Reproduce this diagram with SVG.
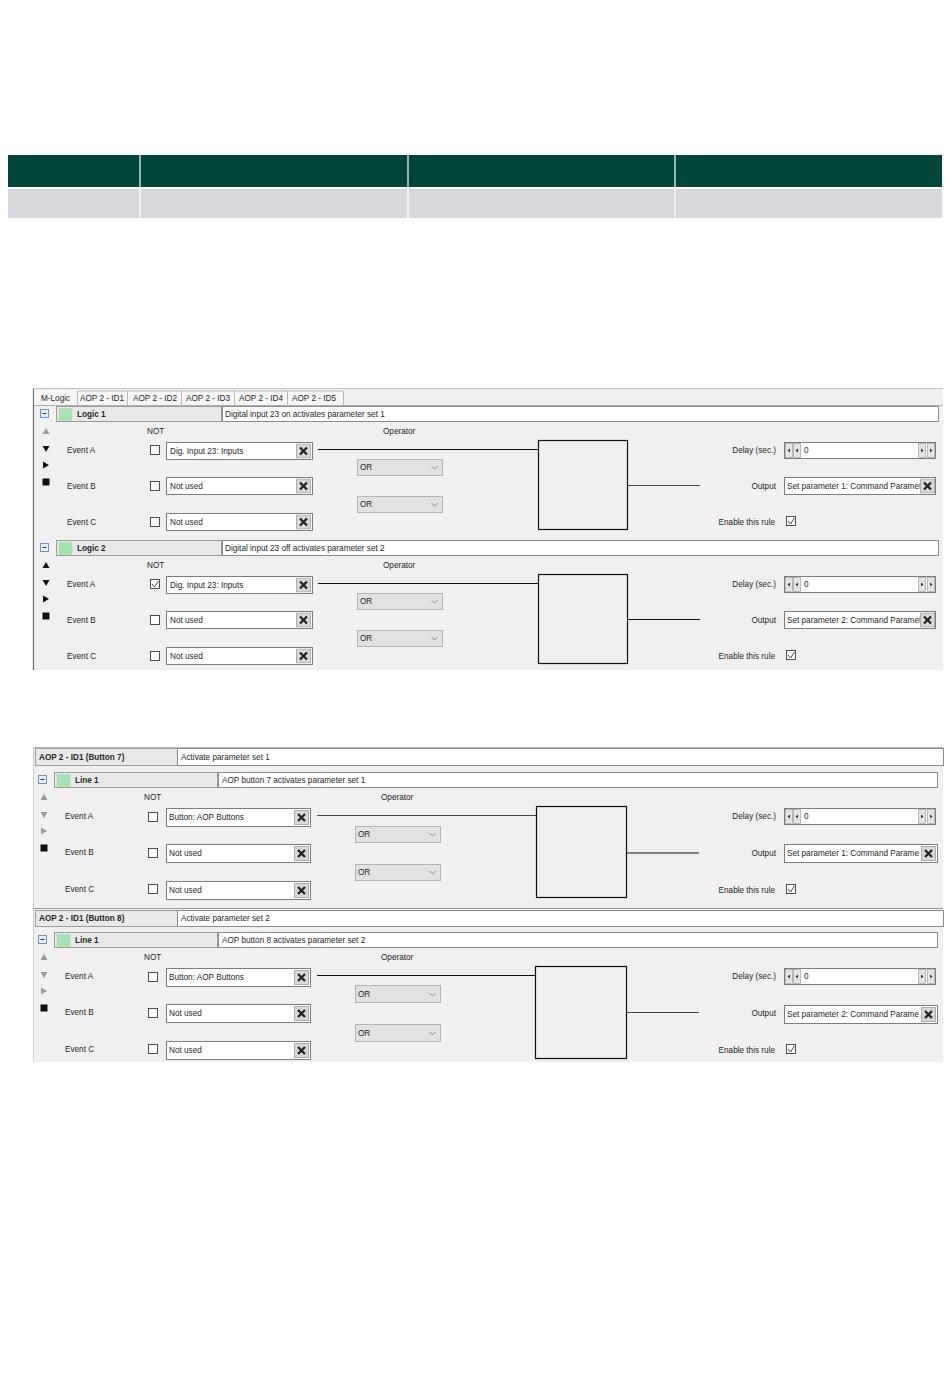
<svg xmlns="http://www.w3.org/2000/svg" width="950" height="1387" viewBox="0 0 950 1387">
<style>
.t{font-family:"Liberation Sans",Arial,sans-serif;font-size:8.2px;fill:#262626}
.b{font-weight:bold}
.e{text-anchor:end}
.hdr{fill:#e9e9e9;stroke:#9c9c9c;stroke-width:1}
.desc{fill:#fff;stroke:#8a8a8a;stroke-width:1}
.inp{fill:#fff;stroke:#7c7c7c;stroke-width:1}
.cb{fill:#fff;stroke:#3a3a3a;stroke-width:0.9}
.dd{fill:#e2e2e2;stroke:#b4b4b4;stroke-width:1}
.chev{fill:none;stroke:#777;stroke-width:0.8}
.chk{fill:none;stroke:#333;stroke-width:0.9}
.gate{fill:#f0f0f0;stroke:#111;stroke-width:1.2}
.grn{fill:#a6e3b0;stroke:#c8c8c8;stroke-width:0.5}
.mi{fill:#e6ecf4;stroke:#6f86a8;stroke-width:0.9}
.mil{stroke:#2a3a55;stroke-width:1}
.ag{fill:#9a9a9a}
.ak{fill:#111}
.sp{fill:#e4e4e4;stroke:#a8a8a8;stroke-width:0.8}
.spt{fill:#333}
.conn{stroke:#111;stroke-width:1.2;fill:none}
.conn2{stroke:#333;stroke-width:0.9;fill:none}
</style>
<defs>
<symbol id="xbtn" viewBox="0 0 15 15" width="15" height="15">
<rect x="0.5" y="0.5" width="14" height="14" fill="#d8d8d8" stroke="#ababab"/>
<path d="M4 4 L11 11 M11 4 L4 11" stroke="#222" stroke-width="2.3" fill="none"/>
</symbol>
<symbol id="delay" viewBox="0 0 153 18" width="153" height="18">
<rect x="0.5" y="0.5" width="151" height="16" fill="#fff" stroke="#7c7c7c"/>
<rect class="sp" x="1.5" y="1.5" width="7" height="14"/>
<rect class="sp" x="9.5" y="1.5" width="7" height="14"/>
<polygon class="spt" points="6,6.5 6,10.5 3.5,8.5"/>
<polygon class="spt" points="14,6.5 14,10.5 11.5,8.5"/>
<rect class="sp" x="134.5" y="1.5" width="7" height="14"/>
<rect class="sp" x="143.5" y="1.5" width="7" height="14"/>
<polygon class="spt" points="137,6.5 137,10.5 139.5,8.5"/>
<polygon class="spt" points="146,6.5 146,10.5 148.5,8.5"/>
</symbol>
<clipPath id="clipA" clipPathUnits="userSpaceOnUse"><rect x="785" y="470" width="135" height="30"/></clipPath>
<clipPath id="clipB" clipPathUnits="userSpaceOnUse"><rect x="787" y="470" width="136" height="30"/></clipPath>
</defs>
<rect width="950" height="1387" fill="#fff"/>

<g id="table">
<rect x="8" y="155" width="934" height="32" fill="#02463a"/>
<rect x="8" y="189" width="934" height="29" fill="#d7d9df"/>
<g stroke="#fff" stroke-width="1.2">
<line x1="140" y1="155" x2="140" y2="218"/>
<line x1="408" y1="155" x2="408" y2="218"/>
<line x1="675" y1="155" x2="675" y2="218"/>
</g>
</g>

<g id="mlogic-panel">
<rect x="33" y="388" width="910" height="282" fill="#f0f0f0"/>
<line x1="33.5" y1="388" x2="33.5" y2="670" stroke="#6a6a6a" stroke-width="1.2"/>
<line x1="33" y1="388.5" x2="943" y2="388.5" stroke="#c4c4c4" stroke-width="1"/>
<rect x="34" y="390" width="309" height="15" fill="#f6f6f6"/>
<line x1="34" y1="405.5" x2="943" y2="405.5" stroke="#b0b0b0"/>
<g stroke="#a9a9a9" stroke-width="0.8">
<line x1="77.5" y1="391" x2="77.5" y2="405"/>
<line x1="127.5" y1="391" x2="127.5" y2="405"/>
<line x1="181.5" y1="391" x2="181.5" y2="405"/>
<line x1="234.5" y1="391" x2="234.5" y2="405"/>
<line x1="287.5" y1="391" x2="287.5" y2="405"/>
<line x1="343.5" y1="391" x2="343.5" y2="405"/>
<line x1="77.5" y1="391" x2="343.5" y2="391"/>
</g>
<text class="t" x="41" y="401">M-Logic</text>
<text class="t" x="80" y="401">AOP 2 - ID1</text>
<text class="t" x="133" y="401">AOP 2 - ID2</text>
<text class="t" x="186" y="401">AOP 2 - ID3</text>
<text class="t" x="239" y="401">AOP 2 - ID4</text>
<text class="t" x="292" y="401">AOP 2 - ID5</text>
</g>

<g id="logic1">
<rect class="hdr" x="56.5" y="406.5" width="165" height="15"/>
<rect class="mi" x="40.5" y="409.5" width="8" height="8"/>
<line class="mil" x1="42.5" y1="413.5" x2="46.5" y2="413.5"/>
<rect class="grn" x="59" y="408.5" width="13" height="12"/>
<text class="t b" x="77" y="417">Logic 1</text>
<rect class="desc" x="222.5" y="406.5" width="716" height="15"/>
<text class="t" x="225" y="417">Digital input 23 on activates parameter set 1</text>
<polygon class="ag" points="42.5,434 49.5,434 46,428"/>
<polygon class="ak" points="42.5,446 49.5,446 46,452"/>
<polygon class="ak" points="43,461.5 43,468.5 49,465"/>
<rect class="ak" x="42.5" y="478.5" width="7" height="7"/>
<text class="t" x="147" y="434">NOT</text>
<text class="t" x="383" y="434">Operator</text>
<text class="t" x="67" y="453">Event A</text>
<rect class="cb" x="150.5" y="445.5" width="9" height="9"/>
<rect class="inp" x="166.5" y="442.5" width="146" height="17"/>
<text class="t" x="170" y="453.5">Dig. Input 23: Inputs</text>
<use href="#xbtn" x="296" y="443.5"/>
<text class="t" x="67" y="489">Event B</text>
<rect class="cb" x="150.5" y="481.5" width="9" height="9"/>
<rect class="inp" x="166.5" y="477.5" width="146" height="17"/>
<text class="t" x="170" y="489">Not used</text>
<use href="#xbtn" x="296" y="478.5"/>
<text class="t" x="67" y="525">Event C</text>
<rect class="cb" x="150.5" y="517.5" width="9" height="9"/>
<rect class="inp" x="166.5" y="513.5" width="146" height="17"/>
<text class="t" x="170" y="525">Not used</text>
<use href="#xbtn" x="296" y="514.5"/>
<rect class="dd" x="357.5" y="459.5" width="85" height="16"/>
<text class="t" x="360" y="470">OR</text>
<polyline class="chev" points="431.5,466 434.5,469 437.5,466"/>
<rect class="dd" x="357.5" y="496.5" width="85" height="16"/>
<text class="t" x="360" y="507">OR</text>
<polyline class="chev" points="431.5,503 434.5,506 437.5,503"/>
<rect class="gate" x="538.5" y="440.5" width="89" height="89"/>
<text class="t e" x="776" y="453">Delay (sec.)</text>
<use href="#delay" x="784" y="442"/>
<text class="t" x="804" y="453">0</text>
<text class="t e" x="776" y="489">Output</text>
<rect class="inp" x="784.5" y="477.5" width="151" height="17"/>
<text class="t" x="787" y="489" clip-path="url(#clipA)">Set parameter 1: Command Paramete</text>
<use href="#xbtn" x="920" y="478.5"/>
<text class="t e" x="775" y="525">Enable this rule</text>
<rect class="cb" x="786.5" y="516.5" width="9" height="9"/>
<polyline class="chk" points="788,521 790.5,524 794.5,518"/>
</g>

<g id="logic2" transform="translate(0,134)">
<rect class="hdr" x="56.5" y="406.5" width="165" height="15"/>
<rect class="mi" x="40.5" y="409.5" width="8" height="8"/>
<line class="mil" x1="42.5" y1="413.5" x2="46.5" y2="413.5"/>
<rect class="grn" x="59" y="408.5" width="13" height="12"/>
<text class="t b" x="77" y="417">Logic 2</text>
<rect class="desc" x="222.5" y="406.5" width="716" height="15"/>
<text class="t" x="225" y="417">Digital input 23 off activates parameter set 2</text>
<polygon class="ak" points="42.5,434 49.5,434 46,428"/>
<polygon class="ak" points="42.5,446 49.5,446 46,452"/>
<polygon class="ak" points="43,461.5 43,468.5 49,465"/>
<rect class="ak" x="42.5" y="478.5" width="7" height="7"/>
<text class="t" x="147" y="434">NOT</text>
<text class="t" x="383" y="434">Operator</text>
<text class="t" x="67" y="453">Event A</text>
<rect class="cb" x="150.5" y="445.5" width="9" height="9"/>
<polyline class="chk" points="152,450 154.5,453 158.5,447"/>
<rect class="inp" x="166.5" y="442.5" width="146" height="17"/>
<text class="t" x="170" y="453.5">Dig. Input 23: Inputs</text>
<use href="#xbtn" x="296" y="443.5"/>
<text class="t" x="67" y="489">Event B</text>
<rect class="cb" x="150.5" y="481.5" width="9" height="9"/>
<rect class="inp" x="166.5" y="477.5" width="146" height="17"/>
<text class="t" x="170" y="489">Not used</text>
<use href="#xbtn" x="296" y="478.5"/>
<text class="t" x="67" y="525">Event C</text>
<rect class="cb" x="150.5" y="517.5" width="9" height="9"/>
<rect class="inp" x="166.5" y="513.5" width="146" height="17"/>
<text class="t" x="170" y="525">Not used</text>
<use href="#xbtn" x="296" y="514.5"/>
<rect class="dd" x="357.5" y="459.5" width="85" height="16"/>
<text class="t" x="360" y="470">OR</text>
<polyline class="chev" points="431.5,466 434.5,469 437.5,466"/>
<rect class="dd" x="357.5" y="496.5" width="85" height="16"/>
<text class="t" x="360" y="507">OR</text>
<polyline class="chev" points="431.5,503 434.5,506 437.5,503"/>
<rect class="gate" x="538.5" y="440.5" width="89" height="89"/>
<text class="t e" x="776" y="453">Delay (sec.)</text>
<use href="#delay" x="784" y="442"/>
<text class="t" x="804" y="453">0</text>
<text class="t e" x="776" y="489">Output</text>
<rect class="inp" x="784.5" y="477.5" width="151" height="17"/>
<text class="t" x="787" y="489" clip-path="url(#clipA)">Set parameter 2: Command Paramete</text>
<use href="#xbtn" x="920" y="478.5"/>
<text class="t e" x="775" y="525">Enable this rule</text>
<rect class="cb" x="786.5" y="516.5" width="9" height="9"/>
<polyline class="chk" points="788,521 790.5,524 794.5,518"/>
</g>

<g id="aop-panel">
<rect x="33" y="747" width="910" height="315" fill="#f0f0f0"/>
<line x1="33" y1="747.5" x2="943" y2="747.5" stroke="#b8b8b8"/>
<line x1="33.5" y1="747" x2="33.5" y2="1062" stroke="#d0d0d0"/>
<line x1="33" y1="908.5" x2="943" y2="908.5" stroke="#9a9a9a"/>
</g>

<g id="aop-header-1">
<rect class="hdr" x="35.5" y="748.5" width="142" height="17"/>
<text class="t b" x="39" y="760">AOP 2 - ID1 (Button 7)</text>
<rect x="177.5" y="748.5" width="766" height="17" fill="#fff" stroke="#8a8a8a"/>
<text class="t" x="181" y="760">Activate parameter set 1</text>
</g>

<g id="aop1-line1" transform="translate(-2,366)">
<rect class="hdr" x="56.5" y="406.5" width="163" height="15"/>
<rect class="mi" x="40.5" y="409.5" width="8" height="8"/>
<line class="mil" x1="42.5" y1="413.5" x2="46.5" y2="413.5"/>
<rect class="grn" x="59" y="408.5" width="13" height="12"/>
<text class="t b" x="77" y="417">Line 1</text>
<rect class="desc" x="220.5" y="406.5" width="719" height="15"/>
<text class="t" x="224" y="417">AOP button 7 activates parameter set 1</text>
<polygon class="ag" points="42.5,434 49.5,434 46,428"/>
<polygon class="ag" points="42.5,446 49.5,446 46,452"/>
<polygon class="ag" points="43,461.5 43,468.5 49,465"/>
<rect class="ak" x="42.5" y="478.5" width="7" height="7"/>
<text class="t" x="146" y="434">NOT</text>
<text class="t" x="383" y="434">Operator</text>
<text class="t" x="67" y="453">Event A</text>
<rect class="cb" x="150.5" y="446.5" width="9" height="9"/>
<rect class="inp" x="168.5" y="442.5" width="144" height="18"/>
<text class="t" x="171" y="454">Button: AOP Buttons</text>
<use href="#xbtn" x="296" y="444"/>
<text class="t" x="67" y="489">Event B</text>
<rect class="cb" x="150.5" y="482.5" width="9" height="9"/>
<rect class="inp" x="168.5" y="478.5" width="144" height="18"/>
<text class="t" x="171" y="490">Not used</text>
<use href="#xbtn" x="296" y="480"/>
<text class="t" x="67" y="526">Event C</text>
<rect class="cb" x="150.5" y="518.5" width="9" height="9"/>
<rect class="inp" x="168.5" y="515.5" width="144" height="18"/>
<text class="t" x="171" y="527">Not used</text>
<use href="#xbtn" x="296" y="517"/>
<rect class="dd" x="357.5" y="460.5" width="85" height="16"/>
<text class="t" x="360" y="471">OR</text>
<polyline class="chev" points="431.5,467 434.5,470 437.5,467"/>
<rect class="dd" x="357.5" y="498.5" width="85" height="16"/>
<text class="t" x="360" y="509">OR</text>
<polyline class="chev" points="431.5,505 434.5,508 437.5,505"/>
<rect class="gate" x="538.5" y="440.5" width="90" height="91"/>
<text class="t e" x="778" y="453">Delay (sec.)</text>
<use href="#delay" x="786" y="442"/>
<text class="t" x="806" y="453">0</text>
<text class="t e" x="778" y="490">Output</text>
<rect class="inp" x="786.5" y="478.5" width="153" height="18"/>
<text class="t" x="789" y="490" clip-path="url(#clipB)">Set parameter 1: Command Parame</text>
<use href="#xbtn" x="923" y="480"/>
<text class="t e" x="777" y="527">Enable this rule</text>
<rect class="cb" x="788.5" y="518.5" width="9" height="9"/>
<polyline class="chk" points="790,523 792.5,526 796.5,520"/>
</g>

<g id="aop-header-2">
<rect class="hdr" x="35.5" y="910.5" width="142" height="16"/>
<text class="t b" x="39" y="921">AOP 2 - ID1 (Button 8)</text>
<rect x="177.5" y="910.5" width="766" height="16" fill="#fff" stroke="#8a8a8a"/>
<text class="t" x="181" y="921">Activate parameter set 2</text>
</g>

<g id="aop2-line1" transform="translate(-2,526)">
<rect class="hdr" x="56.5" y="406.5" width="163" height="15"/>
<rect class="mi" x="40.5" y="409.5" width="8" height="8"/>
<line class="mil" x1="42.5" y1="413.5" x2="46.5" y2="413.5"/>
<rect class="grn" x="59" y="408.5" width="13" height="12"/>
<text class="t b" x="77" y="417">Line 1</text>
<rect class="desc" x="220.5" y="406.5" width="719" height="15"/>
<text class="t" x="224" y="417">AOP button 8 activates parameter set 2</text>
<polygon class="ag" points="42.5,434 49.5,434 46,428"/>
<polygon class="ag" points="42.5,446 49.5,446 46,452"/>
<polygon class="ag" points="43,461.5 43,468.5 49,465"/>
<rect class="ak" x="42.5" y="478.5" width="7" height="7"/>
<text class="t" x="146" y="434">NOT</text>
<text class="t" x="383" y="434">Operator</text>
<text class="t" x="67" y="453">Event A</text>
<rect class="cb" x="150.5" y="446.5" width="9" height="9"/>
<rect class="inp" x="168.5" y="442.5" width="144" height="18"/>
<text class="t" x="171" y="454">Button: AOP Buttons</text>
<use href="#xbtn" x="296" y="444"/>
<text class="t" x="67" y="489">Event B</text>
<rect class="cb" x="150.5" y="482.5" width="9" height="9"/>
<rect class="inp" x="168.5" y="478.5" width="144" height="18"/>
<text class="t" x="171" y="490">Not used</text>
<use href="#xbtn" x="296" y="480"/>
<text class="t" x="67" y="526">Event C</text>
<rect class="cb" x="150.5" y="518.5" width="9" height="9"/>
<rect class="inp" x="168.5" y="515.5" width="144" height="18"/>
<text class="t" x="171" y="527">Not used</text>
<use href="#xbtn" x="296" y="517"/>
<rect class="dd" x="357.5" y="459.5" width="85" height="17"/>
<text class="t" x="360" y="471">OR</text>
<polyline class="chev" points="431.5,467 434.5,470 437.5,467"/>
<rect class="dd" x="357.5" y="498.5" width="85" height="17"/>
<text class="t" x="360" y="510">OR</text>
<polyline class="chev" points="431.5,506 434.5,509 437.5,506"/>
<rect class="gate" x="537.5" y="440.5" width="91" height="92"/>
<text class="t e" x="778" y="453">Delay (sec.)</text>
<use href="#delay" x="786" y="442"/>
<text class="t" x="806" y="453">0</text>
<text class="t e" x="778" y="490">Output</text>
<rect class="inp" x="786.5" y="479.5" width="153" height="18"/>
<text class="t" x="789" y="491" clip-path="url(#clipB)">Set parameter 2: Command Parame</text>
<use href="#xbtn" x="923" y="481"/>
<text class="t e" x="777" y="527">Enable this rule</text>
<rect class="cb" x="788.5" y="518.5" width="9" height="9"/>
<polyline class="chk" points="790,523 792.5,526 796.5,520"/>
</g>

<g id="connectors">
<line class="conn" x1="318" y1="449.5" x2="538" y2="449.5"/>
<line class="conn2" x1="628" y1="485.5" x2="700" y2="485.5"/>
<line class="conn" x1="318" y1="583.5" x2="538" y2="583.5"/>
<line class="conn" x1="628" y1="619.5" x2="700" y2="619.5"/>
<line class="conn2" x1="317" y1="815.5" x2="536" y2="815.5"/>
<line class="conn" x1="627" y1="853" x2="699" y2="853"/>
<line class="conn" x1="317" y1="975.5" x2="535" y2="975.5"/>
<line class="conn2" x1="627" y1="1012.5" x2="699" y2="1012.5"/>
</g>
</svg>
